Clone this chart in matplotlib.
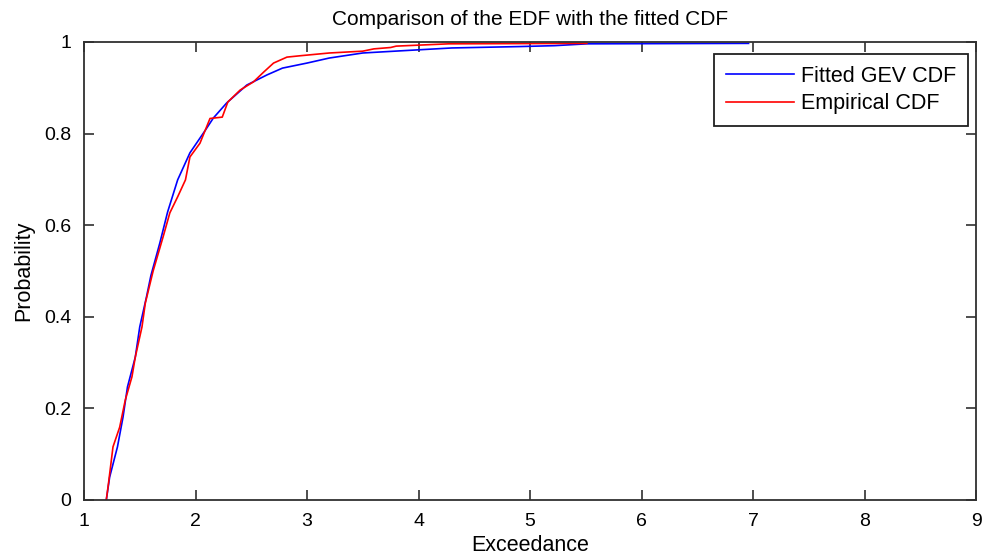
import matplotlib
matplotlib.use('Agg')
import matplotlib.pyplot as plt

plt.rcParams['font.family'] = ['Liberation Sans', 'DejaVu Sans']

# fitted GEV CDF
gev_x = [1.20, 1.23, 1.30, 1.35, 1.39, 1.46, 1.50, 1.56, 1.60, 1.68, 1.75, 1.84,
         1.95, 2.09, 2.16, 2.28, 2.46, 2.64, 2.78, 3.00, 3.20, 3.50, 3.86, 4.30,
         4.90, 5.22, 5.51, 6.96]
gev_p = [0.000, 0.050, 0.116, 0.181, 0.247, 0.312, 0.378, 0.443, 0.490, 0.561,
         0.629, 0.699, 0.758, 0.808, 0.834, 0.867, 0.906, 0.928, 0.943, 0.954,
         0.965, 0.976, 0.981, 0.987, 0.990, 0.992, 0.996, 0.997]

# empirical CDF
edf_x = [1.20, 1.22, 1.26, 1.32, 1.37, 1.43, 1.46, 1.52, 1.55, 1.62, 1.71, 1.77,
         1.84, 1.91, 1.95, 2.04, 2.10, 2.13, 2.24, 2.29, 2.40, 2.52, 2.61, 2.70,
         2.82, 2.94, 3.20, 3.50, 3.60, 3.75, 3.80, 4.27, 5.51]
edf_p = [0.000, 0.037, 0.116, 0.159, 0.218, 0.269, 0.312, 0.378, 0.430, 0.500,
         0.575, 0.627, 0.662, 0.699, 0.749, 0.779, 0.815, 0.833, 0.836, 0.869,
         0.895, 0.913, 0.934, 0.954, 0.967, 0.970, 0.976, 0.980, 0.985, 0.988,
         0.991, 0.996, 0.997]

x_ticks = [1, 2, 3, 4, 5, 6, 7, 8, 9]
y_ticks = [0, 0.2, 0.4, 0.6, 0.8, 1]
y_labels = ['0', '0.2', '0.4', '0.6', '0.8', '1']

fig = plt.figure(figsize=(9.82, 5.58), dpi=100)
ax = fig.add_axes([84 / 982, 58 / 558, 892 / 982, 458 / 558])

ax.plot(gev_x, gev_p, color='#0000ff', lw=1.2, label='Fitted GEV CDF')
ax.plot(edf_x, edf_p, color='#ff0000', lw=1.2, label='Empirical CDF')

ax.set_xlim(1, 9)
ax.set_ylim(0, 1)
ax.set_xticks(x_ticks)
ax.set_xticklabels([str(t) for t in x_ticks])
ax.set_yticks(y_ticks)
ax.set_yticklabels(y_labels)

for s in ax.spines.values():
    s.set_linewidth(1.3)
    s.set_color('#303030')
ax.tick_params(direction='in', length=7, width=1.2, color='#303030',
               top=True, right=True, labelsize=14)
ax.tick_params(axis='x', pad=9)
ax.tick_params(axis='y', pad=9)

ax.set_title('Comparison of the EDF with the fitted CDF', fontsize=15, pad=12)
ax.set_xlabel('Exceedance', fontsize=15.5, labelpad=4)
ax.set_ylabel('Probability', fontsize=15.5, labelpad=7)

leg = ax.legend(loc='upper right', bbox_to_anchor=(0.991, 0.974), borderaxespad=0,
                fontsize=15.5, fancybox=False, framealpha=1, handlelength=3.2,
                handletextpad=0.3, borderpad=0.55, labelspacing=0.3)
leg.get_frame().set_edgecolor('#202020')
leg.get_frame().set_linewidth(1.3)

fig.savefig('out.png', dpi=100)
